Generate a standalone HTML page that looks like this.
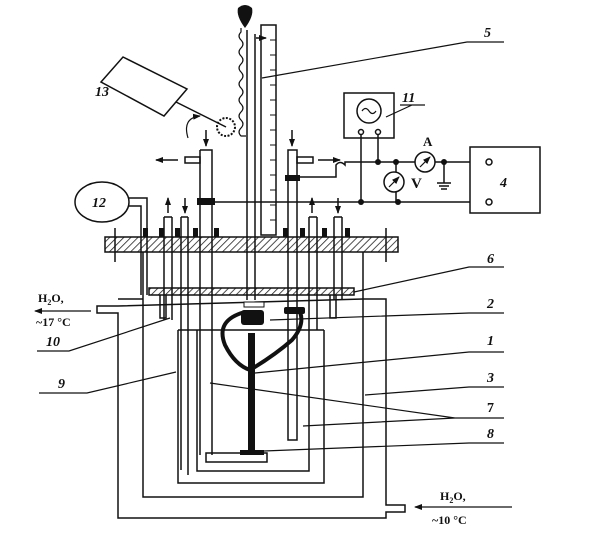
<!DOCTYPE html>
<html><head><meta charset="utf-8"><style>
html,body{margin:0;padding:0;background:#fff}
svg{display:block}
text{font-family:"Liberation Serif",serif;font-style:italic;font-weight:bold;fill:#111}
.n{font-style:normal}
</style></head><body>
<svg width="605" height="535" viewBox="0 0 605 535" xmlns="http://www.w3.org/2000/svg">
<defs>
<pattern id="h" width="5" height="5" patternUnits="userSpaceOnUse" patternTransform="rotate(45)">
<rect width="5" height="5" fill="#fff"/><line x1="0" y1="0" x2="0" y2="5" stroke="#222" stroke-width="1.6"/></pattern>
<marker id="ar" markerWidth="8" markerHeight="8" refX="7" refY="4" orient="auto" markerUnits="userSpaceOnUse"><path d="M0,1 L8,4 L0,7z" fill="#111"/></marker>
</defs>
<g fill="none" stroke="#111" stroke-width="1.5">
<path d="M118,299 H143 M363,299 H386 V505 H405 V512 H386 V518 H118 V313 H97 V306 H118 Z"/>
<path d="M143,252 V497 H363 V252"/>
<path d="M178,330 V483 H324 V330"/>
<path d="M197,330 V471 H309 V330"/>
<line x1="178" y1="330" x2="324" y2="330"/>
<rect x="149" y="288" width="205" height="7" fill="url(#h)"/>
<path d="M160,295 V318 H166 V295 M330,295 V318 H336 V295"/>
<rect x="105" y="237" width="293" height="15" fill="url(#h)"/>
<line x1="115" y1="228" x2="115" y2="262"/><line x1="386" y1="228" x2="386" y2="262"/>
<path d="M164,217 V320 M172,217 V320 M164,217 H172"/>
<path d="M181,217 V470 M188,217 V475 M181,217 H188"/>
<path d="M309,217 V330 M317,217 V330 M309,217 H317"/>
<path d="M334,217 V300 M342,217 V300 M334,217 H342"/>
<path d="M128,198 H147 V295 M128,206 H141 V295"/>
<path d="M200,150 H212 V455 M200,150 V455"/>
<rect x="185" y="157" width="15" height="6"/>
<rect x="206" y="453" width="61" height="9"/>
<path d="M288,150 H297 V440 H288 Z"/>
<rect x="297" y="157" width="16" height="6"/>
<path d="M247,30 V300 M255,34 V300"/>
<rect x="261" y="25" width="15" height="210"/>
<g stroke-width="1">
<line x1="270" y1="40" x2="276" y2="40"/><line x1="270" y1="55" x2="276" y2="55"/><line x1="270" y1="70" x2="276" y2="70"/><line x1="270" y1="85" x2="276" y2="85"/><line x1="270" y1="100" x2="276" y2="100"/><line x1="270" y1="115" x2="276" y2="115"/><line x1="270" y1="130" x2="276" y2="130"/><line x1="270" y1="145" x2="276" y2="145"/><line x1="270" y1="160" x2="276" y2="160"/><line x1="270" y1="175" x2="276" y2="175"/><line x1="270" y1="190" x2="276" y2="190"/><line x1="270" y1="205" x2="276" y2="205"/><line x1="270" y1="220" x2="276" y2="220"/>
</g>
<path d="M241,28 V32 q-4,4 0,8 q4,4 0,8 q-4,4 0,8 q4,4 0,8 q-4,4 0,8 q4,4 0,8 q-4,4 0,8 q4,4 0,8 q-4,4 0,8 q4,4 0,8 q-4,4 0,8 q4,4 0,8 q-4,4 0,8 V136 H246" stroke-width="1.2"/>
<line x1="256" y1="38" x2="266" y2="38" marker-end="url(#ar)"/>
<polygon points="101,82 123,57 187,89 164,116"/>
<line x1="176" y1="102" x2="226" y2="127"/>
<circle cx="226" cy="127" r="9" stroke-dasharray="2,1.5" stroke-width="2"/>
<path d="M188,138 Q182,118 200,116" marker-end="url(#ar)" stroke-width="1.2"/>
<line x1="178" y1="160" x2="156" y2="160" marker-end="url(#ar)"/>
<line x1="318" y1="160" x2="340" y2="160" marker-end="url(#ar)"/>
<line x1="206" y1="130" x2="206" y2="146" marker-end="url(#ar)"/>
<line x1="292" y1="130" x2="292" y2="146" marker-end="url(#ar)"/>
<line x1="168" y1="213" x2="168" y2="198" marker-end="url(#ar)"/>
<line x1="185" y1="198" x2="185" y2="213" marker-end="url(#ar)"/>
<line x1="312" y1="213" x2="312" y2="198" marker-end="url(#ar)"/>
<line x1="338" y1="198" x2="338" y2="213" marker-end="url(#ar)"/>
<ellipse cx="102" cy="202" rx="27" ry="20"/>
<rect x="344" y="93" width="50" height="45"/>
<circle cx="369" cy="111" r="12"/>
<path d="M362,111 q3.5,-5 7,0 q3.5,5 7,0" stroke-width="1.2"/>
<circle cx="361" cy="132" r="2.5"/><circle cx="378" cy="132" r="2.5"/>
<path d="M361,134 V202 M378,134 V162 M297,177 H336 V165 Q340,160 345,165 V162 H415 M435,162 H470"/>
<path d="M212,202 H470"/>
<path d="M396,162 V172 M396,192 V202 M444,162 V183"/>
<line x1="437" y1="183" x2="451" y2="183"/><line x1="439" y1="186" x2="449" y2="186"/><line x1="441" y1="189" x2="447" y2="189"/>
<circle cx="425" cy="162" r="10"/><circle cx="394" cy="182" r="10"/>
<line x1="420" y1="167" x2="430" y2="157" marker-end="url(#ar)" stroke-width="1.2"/>
<line x1="389" y1="187" x2="399" y2="177" marker-end="url(#ar)" stroke-width="1.2"/>
<rect x="470" y="147" width="70" height="66"/>
<circle cx="489" cy="162" r="3"/><circle cx="489" cy="202" r="3"/>
<path d="M245,312 Q215,320 225,345 Q235,365 250,370 Q275,355 292,340 Q305,325 300,312" stroke-width="4"/>
<g stroke-width="1.2">
<path d="M262,78 L467,42 H504"/>
<path d="M400,105 H425 M386,117 L412,105"/>
<path d="M354,292 L469,267 H504"/>
<path d="M270,320 L469,313 H504"/>
<path d="M255,373 L469,352 H504"/>
<path d="M365,395 L469,387 H504"/>
<path d="M210,383 L455,418 M303,426 L455,418 H504"/>
<path d="M264,451 L469,443 H504"/>
<path d="M37,351 H69 L170,318"/>
<path d="M39,393 H87 L176,372"/>
<line x1="91" y1="311" x2="35" y2="311" marker-end="url(#ar)"/>
<line x1="512" y1="507" x2="415" y2="507" marker-end="url(#ar)"/>
</g>
</g>
<g fill="#111">
<path d="M238,8 Q245,2 252,8 Q254,16 245,28 Q236,16 238,8z"/>
<rect x="248" y="333" width="7" height="120"/>
<rect x="240" y="450" width="24" height="5"/>
<rect x="241" y="310" width="23" height="15" rx="3"/>
<rect x="244" y="302" width="20" height="5" fill="#fff" stroke="#111"/>
<rect x="284" y="307" width="21" height="7" rx="2"/>
<rect x="197" y="198" width="18" height="7"/>
<rect x="285" y="175" width="15" height="6"/>
<rect x="143" y="228" width="5" height="9"/><rect x="159" y="228" width="5" height="9"/><rect x="175" y="228" width="5" height="9"/><rect x="193" y="228" width="5" height="9"/><rect x="214" y="228" width="5" height="9"/><rect x="283" y="228" width="5" height="9"/><rect x="300" y="228" width="5" height="9"/><rect x="322" y="228" width="5" height="9"/><rect x="345" y="228" width="5" height="9"/>
<circle cx="361" cy="202" r="3"/><circle cx="398" cy="202" r="3"/><circle cx="378" cy="162" r="3"/><circle cx="396" cy="162" r="3"/><circle cx="444" cy="162" r="3"/>
</g>
<text x="484" y="37" font-size="14">5</text>
<text x="402" y="102" font-size="14">11</text>
<text x="423" y="146" font-size="13" class="n">A</text>
<text x="411" y="188" font-size="15" class="n">V</text>
<text x="500" y="187" font-size="14">4</text>
<text x="95" y="96" font-size="14">13</text>
<text x="92" y="207" font-size="14">12</text>
<text x="487" y="263" font-size="14">6</text>
<text x="487" y="308" font-size="14">2</text>
<text x="487" y="345" font-size="14">1</text>
<text x="487" y="382" font-size="14">3</text>
<text x="487" y="412" font-size="14" class="n">7</text>
<text x="487" y="438" font-size="14">8</text>
<text x="46" y="346" font-size="14">10</text>
<text x="58" y="388" font-size="14">9</text>
<text x="38" y="302" font-size="12" class="n">H<tspan font-size="8" dy="3">2</tspan><tspan dy="-3">O,</tspan></text>
<text x="36" y="326" font-size="12" class="n">~17 °C</text>
<text x="440" y="500" font-size="12" class="n">H<tspan font-size="8" dy="3">2</tspan><tspan dy="-3">O,</tspan></text>
<text x="432" y="524" font-size="12" class="n">~10 °C</text>
</svg>
</body></html>
